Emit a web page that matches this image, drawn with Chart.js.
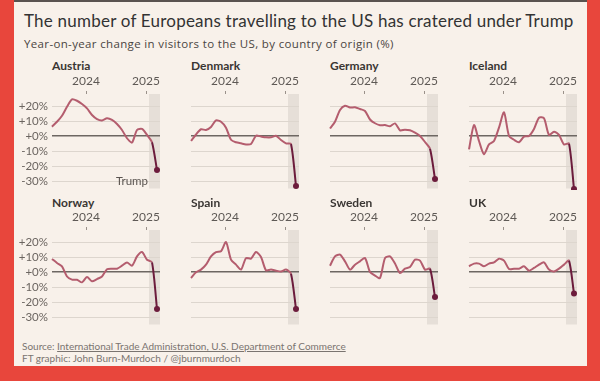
<!DOCTYPE html>
<html>
<head>
<meta charset="utf-8">
<script src="https://cdn.jsdelivr.net/npm/chart.js@4.4.1/dist/chart.umd.min.js"></script>
<style>
html, body {margin:0; padding:0; width:600px; height:381px; overflow:hidden; background:#e8463c; font-family:Lato, sans-serif;}
#card {position:absolute; left:14px; top:0; width:573px; height:366px; background:#f8f1ea;}
#strip {position:absolute; left:14px; top:0; width:573px; height:2px; background:#5a5350;}
.t {position:absolute; white-space:nowrap; line-height:1;}
#title {left:24px; top:11.8px; font-size:17px; letter-spacing:0.22px; color:#333;}
#sub {left:24px; top:37.5px; font-size:11.5px; letter-spacing:0.35px; color:#4a4542; font-family:'Open Sans', sans-serif;}
.name {font-size:12px; font-weight:bold; color:#3a3633;}
.foot {left:22px; font-size:10px; color:#7a7470;}
.foot u {text-decoration:underline;}
canvas {position:absolute;}
</style>
</head>
<body>
<div id="card"></div>
<div id="strip"></div>
<div class="t" id="title">The number of Europeans travelling to the US has cratered under Trump</div>
<div class="t" id="sub">Year-on-year change in visitors to the US, by country of origin (%)</div>
<div class="t foot" style="top:341px">Source: <u>International Trade Administration, U.S. Department of Commerce</u></div>
<div class="t foot" style="top:353px">FT graphic: John Burn-Murdoch / @jburnmurdoch</div>

<script>
// months Jun 2023 .. Mar 2025, x = index
const months = ['Jun 23','Jul 23','Aug 23','Sep 23','Oct 23','Nov 23','Dec 23',
    'Jan 24','Feb 24','Mar 24','Apr 24','May 24','Jun 24','Jul 24','Aug 24','Sep 24','Oct 24','Nov 24','Dec 24',
    'Jan 25','Feb 25','Mar 25'];
const yearLabels = ['2024', '2025'];
const yearTickAt = [6.8, 18.8];
const yTicks = [-30, -20, -10, 0, 10, 20];
const trumpFrom = 19.4;

const countries = ['Austria', 'Denmark', 'Germany', 'Iceland', 'Norway', 'Spain', 'Sweden', 'UK'];

const austria = [6.2, 9.5, 13.5, 19.5, 24.4, 23.5, 21.3, 18.4, 14, 11.3, 10.4, 11.8, 10.7, 8, 4, -1.5, -4.4, 4, 4.7, 0.7, -4.2, -22.7];
const denmark = [-3.3, 1, 4.5, 4, 6, 10.4, 9.5, 5.5, -2.5, -4.2, -4.9, -5.6, -5.3, 0.2, -0.4, -0.9, -0.9, 0.2, -2.7, -4.9, -5.3, -33.3];
const germany = [5, 9.5, 17.3, 20.2, 19, 19.1, 18, 16.7, 11, 8.5, 7.2, 7.3, 6.5, 8.4, 3.8, 4.2, 3.8, 2.2, 0, -4, -8.5, -28.7];
const iceland = [-8.9, 7.3, -3.3, -12.2, -5.6, -3.3, 5.6, 15.8, 0, -2.5, -4.2, -0.4, 0, 4.7, 12.2, 11.8, 0.7, 2.9, 0.7, -5.6, -5.1, -35.3];
const norway = [8.7, 6, 3.8, -3, -5.1, -5.2, -6.9, -3.3, -6.2, -4.7, -3, 1.8, 2.2, 2.2, 4.2, 6.4, 4.2, 10.4, 13.3, 8.2, 6.4, -24.7];
const spain = [-4, -0.2, 1.6, 4.9, 10.4, 13.3, 13.8, 20, 8.2, 4.9, 1.6, 9.3, 8.9, 13.3, 10, 1.1, 1.6, 0.9, 0.4, 1.6, -1.1, -24.7];
const sweden = [4.2, 10.4, 11.6, 7.1, 1.6, 4.9, 7.1, 9.3, 0, -2.4, -4, 9.3, 10.4, 5.6, -0.7, 2.2, 3.3, 8.2, 7.6, 1.6, 2.2, -16.7];
const uk = [3.8, 5.6, 5.6, 3.8, 5.6, 6.4, 8.9, 7.6, 2, 2.2, 2.2, 3.8, 0.9, 2.7, 4.9, 6.4, 1.6, 0.4, 2.2, 4.9, 7.6, -14.4];

const series = [austria, denmark, germany, iceland, norway, spain, sweden, uk];

const lineColor = '#b45d6e';
const lastColor = '#6c1c3c';
const plotLefts = [52, 191, 330, 469];
const plotTops = [94, 230.3];

// fixed axis sizes so every panel's plot area lines up
function noPad(axis) {
    axis.paddingTop = 0;
    axis.paddingBottom = 0;
    axis.paddingLeft = 0;
    axis.paddingRight = 0;
}

const bandPlugin = {
    id: 'band',
    beforeDraw(chart) {
        const {ctx, chartArea, scales} = chart;
        const x0 = scales.x.getPixelForValue(trumpFrom);
        ctx.save();
        ctx.fillStyle = '#e6dfd8';
        ctx.fillRect(x0, chartArea.top, chartArea.right - x0, chartArea.bottom - chartArea.top);
        ctx.restore();
    },
    afterDraw(chart, args, opts) {
        if (!opts.label) return;
        const {ctx, scales} = chart;
        ctx.save();
        ctx.font = '11.5px Lato, sans-serif';
        ctx.fillStyle = '#5a5450';
        ctx.textAlign = 'right';
        ctx.textBaseline = 'middle';
        ctx.fillText(opts.label, scales.x.getPixelForValue(trumpFrom) - 1, scales.y.getPixelForValue(-30.3));
        ctx.restore();
    }
};

countries.forEach((name, k) => {
    const col = k % 4, row = Math.floor(k / 4);
    const left = plotLefts[col], top = plotTops[row];

    const lab = document.createElement('div');
    lab.className = 't name';
    lab.textContent = name;
    lab.style.left = left + 'px';
    lab.style.top = (top - 33.8) + 'px';
    document.body.appendChild(lab);

    const cv = document.createElement('canvas');
    cv.width = 150;
    cv.height = 120;
    cv.style.left = (left - 40) + 'px';
    cv.style.top = (top - 24) + 'px';
    document.body.appendChild(cv);

    const vals = series[k];
    const last = vals.length - 1;

    new Chart(cv.getContext('2d'), {
        type: 'line',
        data: {
            datasets: [{
                data: vals.map((v, i) => ({x: i, y: v})),
                borderWidth: 2,
                tension: 0.25,
                clip: false,
                segment: {
                    borderColor: ctx => ctx.p1DataIndex === last ? lastColor : lineColor
                },
                borderColor: lineColor,
                pointRadius: ctx => ctx.dataIndex === last ? 3 : 0,
                pointBackgroundColor: lastColor,
                pointBorderWidth: 0,
                pointHoverRadius: 0
            }]
        },
        options: {
            responsive: false,
            animation: false,
            events: [],
            layout: {autoPadding: false, padding: {left: 0, right: 2, top: 0, bottom: 1.5}},
            plugins: {
                legend: {display: false},
                tooltip: {enabled: false},
                band: {label: k === 0 ? 'Trump' : ''}
            },
            scales: {
                x: {
                    type: 'linear',
                    position: 'top',
                    min: 0,
                    max: 21.6,
                    afterBuildTicks: axis => { axis.ticks = yearTickAt.map(v => ({value: v})); },
                    afterFit: axis => { axis.height = 24; noPad(axis); },
                    ticks: {
                        callback: (v, i) => yearLabels[i],
                        autoSkip: false,
                        maxRotation: 0,
                        padding: 3,
                        color: '#5e5955',
                        font: {family: 'Lato', size: 12}
                    },
                    grid: {drawOnChartArea: false, drawTicks: true, tickLength: 3, color: '#9a918a'},
                    border: {display: false}
                },
                y: {
                    min: -35,
                    max: 28,
                    afterBuildTicks: axis => { axis.ticks = yTicks.map(v => ({value: v})); },
                    afterFit: axis => { axis.width = 40; noPad(axis); },
                    ticks: {
                        display: col === 0,
                        callback: v => (v >= 0 ? '+' : '') + v + '%',
                        padding: 4,
                        color: '#6b6560',
                        font: {family: 'Lato', size: 11.5}
                    },
                    grid: {
                        drawTicks: false,
                        color: ctx => ctx.tick && ctx.tick.value === 0 ? '#6d6762' : '#ddd6ce',
                        lineWidth: ctx => ctx.tick && ctx.tick.value === 0 ? 1.5 : 1
                    },
                    border: {display: false}
                }
            }
        },
        plugins: [bandPlugin]
    });
});
</script>
</body>
</html>
